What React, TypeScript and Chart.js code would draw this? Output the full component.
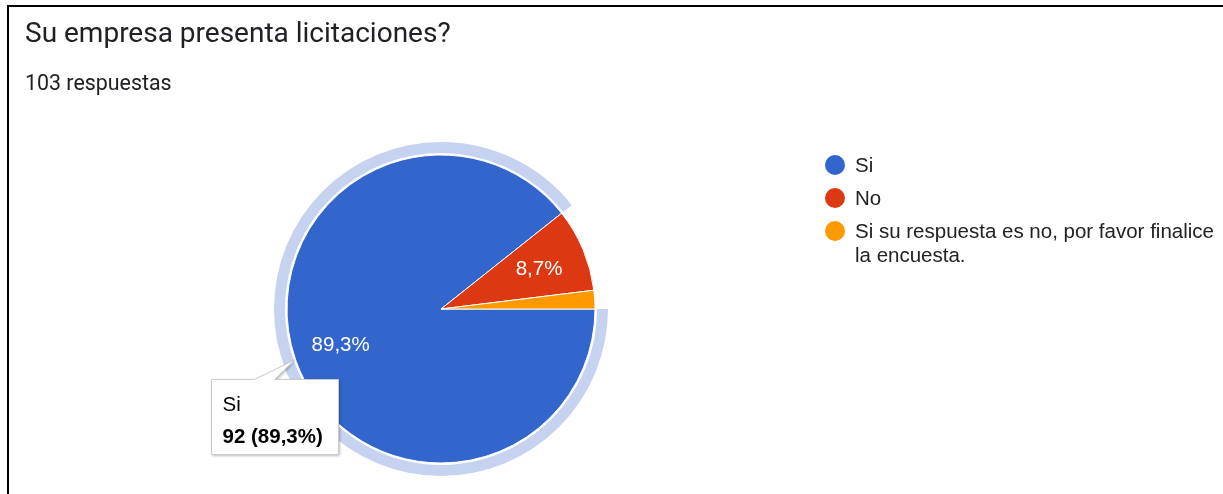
import React, { useEffect, useRef } from "react";
import { Chart, registerables } from "chart.js";

Chart.register(...registerables);

const title = "Su empresa presenta licitaciones?";
const categories = ["Si", "No", "Si su respuesta es no, por favor finalice la encuesta."];
const counts = [92, 9, 2];
const colors = ["#3366cc", "#dc3912", "#ff9900"];
const highlightIndex = 0;

const total = counts.reduce((a, b) => a + b, 0);
const pctText = (v: number) => ((v / total) * 100).toFixed(1).replace(".", ",") + "%";

const CHART_FONT = "Arial, 'Liberation Sans', sans-serif";

const pieExtras = {
  id: "pieExtras",
  beforeDatasetsDraw(chart: any) {
    const ctx = chart.ctx;
    const arc = chart.getDatasetMeta(0).data[highlightIndex];
    if (!arc) return;
    const { x, y, startAngle, endAngle, outerRadius } = arc.getProps(
      ["x", "y", "startAngle", "endAngle", "outerRadius"],
      true
    );
    ctx.save();
    ctx.beginPath();
    ctx.arc(x, y, outerRadius + 13, startAngle, endAngle);
    ctx.arc(x, y, outerRadius + 2, endAngle, startAngle, true);
    ctx.closePath();
    ctx.fillStyle = "#c5d3f0";
    ctx.fill();
    ctx.restore();
  },
  afterDatasetsDraw(chart: any) {
    const ctx = chart.ctx;
    const meta = chart.getDatasetMeta(0);
    ctx.save();
    ctx.font = `20.5px ${CHART_FONT}`;
    ctx.fillStyle = "#ffffff";
    ctx.textAlign = "center";
    ctx.textBaseline = "middle";
    meta.data.forEach((el: any, i: number) => {
      const v = counts[i];
      if (v / total < 0.05) return;
      const { x, y, startAngle, endAngle, outerRadius } = el.getProps(
        ["x", "y", "startAngle", "endAngle", "outerRadius"],
        true
      );
      const mid = (startAngle + endAngle) / 2;
      const d = outerRadius * 0.69;
      ctx.fillText(pctText(v), x + Math.cos(mid) * d, y + Math.sin(mid) * d + 1);
    });
    ctx.restore();

    // tooltip for highlighted slice
    const el = meta.data[highlightIndex];
    if (!el) return;
    const { x, y, startAngle, endAngle, outerRadius } = el.getProps(
      ["x", "y", "startAngle", "endAngle", "outerRadius"],
      true
    );
    const mid = (startAngle + endAngle) / 2;
    const ax = x + Math.cos(mid) * (outerRadius + 1);
    const ay = y + Math.sin(mid) * (outerRadius + 1);
    const bx = Math.round(ax - 84) + 0.5;
    const by = Math.round(ay + 19) + 0.5;
    const bw = 127;
    const bh = 75;
    ctx.save();
    ctx.beginPath();
    ctx.moveTo(bx, by);
    ctx.lineTo(ax - 40, by);
    ctx.lineTo(ax, ay);
    ctx.lineTo(ax - 20, by);
    ctx.lineTo(bx + bw, by);
    ctx.lineTo(bx + bw, by + bh);
    ctx.lineTo(bx, by + bh);
    ctx.closePath();
    ctx.shadowColor = "rgba(0,0,0,0.35)";
    ctx.shadowBlur = 3;
    ctx.shadowOffsetX = 1;
    ctx.shadowOffsetY = 1;
    ctx.fillStyle = "#ffffff";
    ctx.fill();
    ctx.shadowColor = "transparent";
    ctx.strokeStyle = "#cccccc";
    ctx.lineWidth = 1;
    ctx.stroke();
    ctx.fillStyle = "#000000";
    ctx.textAlign = "left";
    ctx.textBaseline = "alphabetic";
    ctx.font = `20.5px ${CHART_FONT}`;
    ctx.fillText(categories[highlightIndex], bx + 11, by + 31);
    ctx.font = `bold 20.5px ${CHART_FONT}`;
    ctx.fillText(
      `${counts[highlightIndex]} (${pctText(counts[highlightIndex])})`,
      bx + 11,
      by + 63
    );
    ctx.restore();
  },
};

export default function App() {
  const canvasRef = useRef<HTMLCanvasElement | null>(null);

  useEffect(() => {
    document.body.style.margin = "0";
    const canvas = canvasRef.current;
    if (!canvas) return;
    const chart = new Chart(canvas, {
      type: "pie",
      data: {
        labels: categories,
        datasets: [
          {
            data: counts,
            backgroundColor: colors,
            borderColor: "#ffffff",
            borderWidth: 1,
            hoverOffset: 0,
          },
        ],
      },
      options: {
        animation: false,
        responsive: false,
        events: [],
        rotation: 90,
        radius: 154,
        layout: { padding: { left: 0, right: 341, top: 124, bottom: 0 } },
        plugins: {
          legend: { display: false },
          tooltip: { enabled: false },
          title: { display: false },
        },
      },
      plugins: [pieExtras],
    });
    return () => chart.destroy();
  }, []);

  return (
    <div
      style={{
        position: "fixed",
        left: 0,
        top: 0,
        width: 1223,
        height: 494,
        background: "#ffffff",
        overflow: "hidden",
      }}
    >
      <div
        style={{
          position: "absolute",
          left: 7,
          top: 5,
          width: 1400,
          height: 600,
          borderTop: "2px solid #000",
          borderLeft: "2px solid #000",
        }}
      />
      <canvas
        ref={canvasRef}
        width={1223}
        height={494}
        style={{ position: "absolute", left: 0, top: 0, width: 1223, height: 494 }}
      />
      <div
        style={{
          position: "absolute",
          left: 25,
          top: 19,
          fontFamily: "Roboto, sans-serif",
          fontSize: 28,
          lineHeight: "28px",
          color: "#202124",
          whiteSpace: "nowrap",
        }}
      >
        {title}
      </div>
      <div
        style={{
          position: "absolute",
          left: 25,
          top: 72,
          fontFamily: "Roboto, sans-serif",
          fontSize: 21.4,
          lineHeight: "21.4px",
          color: "#202124",
          whiteSpace: "nowrap",
        }}
      >
        {`${total} respuestas`}
      </div>
      <div
        style={{
          position: "absolute",
          left: 825,
          top: 153,
          width: 398,
          fontFamily: CHART_FONT,
          fontSize: 20.5,
          lineHeight: "24px",
          color: "#222222",
        }}
      >
        {categories.map((c, i) => (
          <div key={c} style={{ display: "flex", alignItems: "flex-start", marginBottom: 9 }}>
            <div
              style={{
                width: 20,
                height: 20,
                borderRadius: "50%",
                background: colors[i],
                marginTop: 2,
                marginRight: 10,
                flex: "0 0 auto",
              }}
            />
            <div style={{ width: 368 }}>{c}</div>
          </div>
        ))}
      </div>
    </div>
  );
}
